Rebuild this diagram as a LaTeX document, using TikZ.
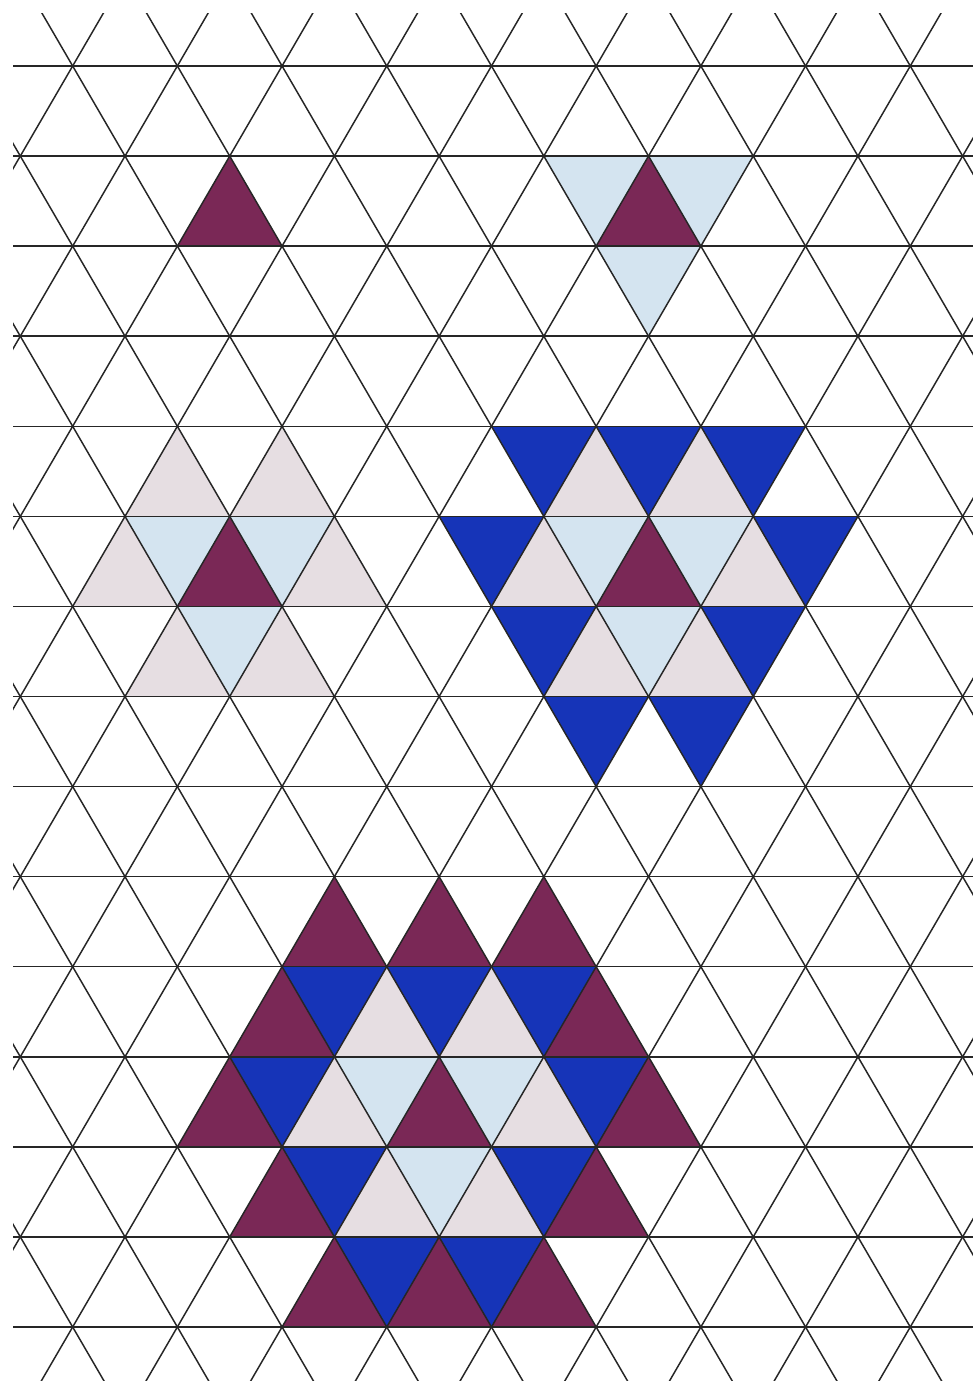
\documentclass[tikz,border=0pt]{standalone}
\usepackage{xcolor}
\usepackage{tikz}
\usetikzlibrary{calc}

\definecolor{plum}{RGB}{122,40,86}
\definecolor{royal}{RGB}{22,52,184}
\definecolor{iceblue}{RGB}{212,228,240}
\definecolor{rosegray}{RGB}{230,222,226}

\begin{document}
\begin{tikzpicture}[
    x={(0.5235cm,0)}, y={(0,-0.9007cm)},
    grid/.style={line width=0.42pt,black!85},
    plumtri/.style={fill=plum},
    bluetri/.style={fill=royal},
    icetri/.style={fill=iceblue},
    rosetri/.style={fill=rosegray}
]

%--------------------------------------------------------------------
% Page frame
%--------------------------------------------------------------------
\fill[white] (-0.388,-0.7328) rectangle (18.294,14.622);
\useasboundingbox (-0.388,-0.7328) rectangle (18.294,14.622);

%--------------------------------------------------------------------
% Coloured cells: up (apex at c,r) and down (top edge centred at c,r)
%--------------------------------------------------------------------
\foreach \c/\r in {4/1, 12/1, 4/5, 12/5, 6/9, 8/9, 10/9, 5/10, 11/10,
                   4/11, 8/11, 12/11, 5/12, 11/12, 6/13, 8/13, 10/13}
  \fill[plumtri] (\c,\r) -- ++(-1,1) -- ++(2,0) -- cycle;

\foreach \c/\r in {3/4, 5/4, 2/5, 6/5, 3/6, 5/6,
                   11/4, 13/4, 10/5, 14/5, 11/6, 13/6,
                   7/10, 9/10, 6/11, 10/11, 7/12, 9/12}
  \fill[rosetri] (\c,\r) -- ++(-1,1) -- ++(2,0) -- cycle;

\foreach \c/\r in {10/4, 12/4, 14/4, 9/5, 15/5, 10/6, 14/6, 11/7, 13/7,
                   6/10, 8/10, 10/10, 5/11, 11/11, 6/12, 10/12, 7/13, 9/13}
  \fill[bluetri] (\c-1,\r) -- ++(2,0) -- ++(-1,1) -- cycle;

\foreach \c/\r in {11/1, 13/1, 12/2, 3/5, 5/5, 4/6,
                   11/5, 13/5, 12/6, 7/11, 9/11, 8/12}
  \fill[icetri] (\c-1,\r) -- ++(2,0) -- ++(-1,1) -- cycle;

%--------------------------------------------------------------------
% Triangular grid
%--------------------------------------------------------------------
\begin{scope}
  \clip (-0.139,-0.585) rectangle (18.198,14.59);
  \foreach \r in {0,...,14}
    \draw[grid] (-1,\r) -- (19,\r);
  \foreach \k in {-17,-15,...,19}
    \draw[grid] (\k-1,-1) -- (\k+15,15);
  \foreach \m in {-1,1,...,35}
    \draw[grid] (\m+1,-1) -- (\m-15,15);
\end{scope}

\end{tikzpicture}
\end{document}
